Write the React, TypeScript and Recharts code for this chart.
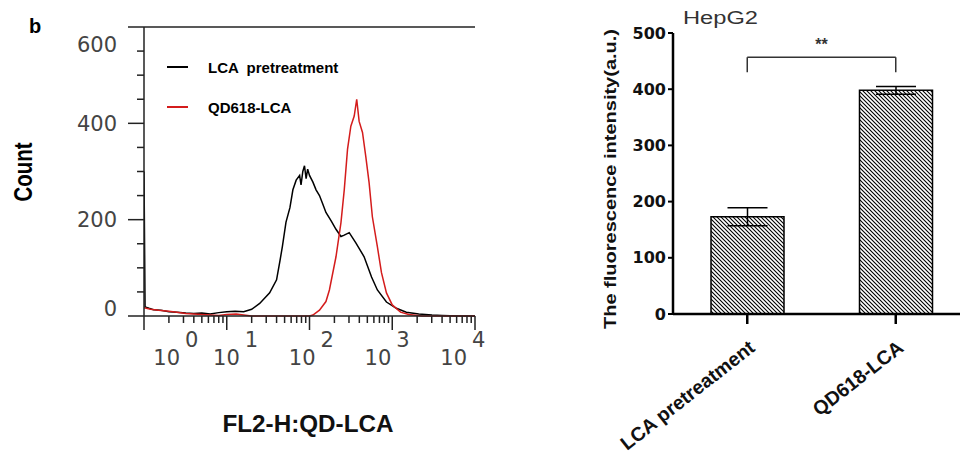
import { LineChart, Line, XAxis, YAxis, Legend, ReferenceLine, BarChart, Bar, ErrorBar } from 'recharts';

// flow cytometry histogram (FL2-H channel value vs. count)
const lcaX = [1, 1.03, 1.15, 1.3, 1.6, 2, 2.5, 3.2, 4, 5, 6.3, 8, 10, 12.6, 16, 20, 25, 33, 40, 44, 47, 52, 58, 63, 69, 76, 79, 83, 87, 91, 95, 100, 110, 120, 132, 145, 158, 182, 209, 240, 263, 302, 363, 457, 562, 661, 851, 1122, 1479, 2090, 3020, 4000, 6300, 10000];
const lcaCount = [300, 19, 16, 13, 12, 9, 8, 6, 5, 6, 4, 7, 9, 10, 9, 14, 26, 48, 75, 115, 144, 195, 225, 262, 282, 292, 272, 300, 312, 285, 305, 292, 278, 262, 250, 232, 215, 198, 180, 165, 168, 173, 152, 123, 81, 54, 29, 16, 8, 4, 2, 1, 0, 0];

const qdX = [1, 1.2, 1.5, 2, 2.5, 3.2, 4, 5, 6.3, 8, 10, 13, 16, 20, 50, 100, 110, 132, 158, 174, 209, 240, 263, 288, 316, 347, 372, 398, 437, 479, 525, 575, 661, 741, 851, 1000, 1259, 1585, 2291, 10000];
const qdCount = [17, 14, 12, 10, 8, 5, 4, 3, 2, 1, 3, 4, 2, 0, 0, 0, 2, 12, 30, 54, 123, 194, 262, 346, 394, 415, 450, 404, 381, 331, 277, 206, 144, 90, 48, 23, 8, 3, 0, 0];

const decades = [1, 10, 100, 1000, 10000];
const minorSteps = [2, 3, 4, 5, 6, 7, 8, 9];
const countTicks = [0, 50, 100, 150, 200, 250, 300, 350, 400, 450, 500, 550, 600];

// bar chart
const groups = ['LCA pretreatment', 'QD618-LCA'];
const intensity = [173, 398];
const intensityErr = [16, 7];
const intensityTicks = [0, 100, 200, 300, 400, 500];

const lcaData = lcaX.map((x, i) => ({ x, count: lcaCount[i] }));
const qdData = qdX.map((x, i) => ({ x, count: qdCount[i] }));
const logTicks = decades.flatMap((d) => (d < 10000 ? [d, ...minorSteps.map((m) => m * d)] : [d]));
const barData = groups.map((name, i) => ({ name, value: intensity[i], err: intensityErr[i] }));

const AXIS = '#222';
const LABEL_FONT = '"DejaVu Sans", sans-serif';
const BOLD_FONT = '"Liberation Sans", Arial, sans-serif';

const CountTick = ({ x, y, payload }: any) => {
  const v = payload.value;
  const major = v % 200 === 0;
  const nudge = v === 600 ? 17 : v === 0 ? -8 : 0;
  return (
    <g>
      <line x1={x} x2={x - (major ? 16 : 7)} y1={y} y2={y} stroke={AXIS} strokeWidth={1.5} />
      {major && (
        <text x={x - 27} y={y + nudge} dy="0.36em" textAnchor="end" fontSize={21} fontFamily={LABEL_FONT} fill="#444">
          {v}
        </text>
      )}
    </g>
  );
};

const DecadeTick = ({ x, y, payload }: any) => {
  const lg = Math.log10(payload.value);
  const e = Math.round(lg);
  const major = Math.abs(lg - e) < 1e-6;
  const off = e === 0 ? 36 : 13 - 7 * (e - 1);
  return (
    <g>
      <line x1={x} x2={x} y1={y} y2={y + (major ? 14 : 7)} stroke={AXIS} strokeWidth={1.5} />
      {major && (
        <g fontSize={21} fontFamily={LABEL_FONT} fill="#444">
          <text x={x + off} y={y + 49} textAnchor="end">10</text>
          <text x={x + off + 5} y={y + 31} textAnchor="start">{e}</text>
        </g>
      )}
    </g>
  );
};

const renderLegend = (props: any) => (
  <div>
    {(props.payload ?? []).map((entry: any, i: number) => (
      <div key={`leg-${i}`} style={{ display: 'flex', alignItems: 'center', height: 40 }}>
        <span style={{ display: 'inline-block', width: 21, height: 2, background: entry.color, marginRight: 20 }} />
        <span style={{ font: `bold 15px ${BOLD_FONT}`, color: '#000', whiteSpace: 'pre' }}>{entry.value}</span>
      </div>
    ))}
  </div>
);

const GroupTick = ({ x, y, payload }: any) => (
  <g transform={`translate(${x + 9},${y + 26}) rotate(-38)`}>
    <text textAnchor="end" fontSize={19.5} fontWeight="bold" fontFamily={BOLD_FONT} fill="#111">
      {payload.value}
    </text>
  </g>
);

export default function App() {
  return (
    <div style={{ position: 'absolute', left: 0, top: 0, width: 960, height: 459, overflow: 'hidden', background: '#fff' }}>
      <div style={{ position: 'absolute', left: 0, top: 0 }}>
        <LineChart width={495} height={459} margin={{ top: 27, right: 20, bottom: 103, left: 84 }}>
          <XAxis
            dataKey="x"
            type="number"
            scale="log"
            domain={[1, 10000]}
            ticks={logTicks}
            interval={0}
            allowDataOverflow
            height={40}
            tickSize={0}
            tickMargin={0}
            tick={<DecadeTick />}
            axisLine={{ stroke: AXIS, strokeWidth: 1.5 }}
          />
          <YAxis
            type="number"
            domain={[0, 600]}
            ticks={countTicks}
            interval={0}
            width={60}
            tickSize={0}
            tickMargin={0}
            tick={<CountTick />}
            axisLine={{ stroke: AXIS, strokeWidth: 1.5 }}
          />
          <ReferenceLine y={600} stroke={AXIS} strokeWidth={1.5} />
          <Legend
            layout="vertical"
            align="center"
            verticalAlign="middle"
            content={renderLegend}
            wrapperStyle={{ left: 167, top: 47, width: 220 }}
          />
          <Line data={lcaData} dataKey="count" name="LCA  pretreatment" stroke="#000" strokeWidth={1.5} dot={false} isAnimationActive={false} />
          <Line data={qdData} dataKey="count" name="QD618-LCA" stroke="#d41c1c" strokeWidth={1.5} dot={false} isAnimationActive={false} />
        </LineChart>
      </div>

      <div style={{ position: 'absolute', left: 560, top: 0 }}>
        <BarChart width={410} height={459} data={barData} margin={{ top: 33, right: 0, bottom: 0, left: 53 }}>
          <defs>
            <pattern id="hatch" width="4" height="4" patternUnits="userSpaceOnUse">
              <path d="M-1,-1 L5,5 M-1,3 L1,5 M3,-1 L5,1" stroke="#000" strokeWidth={1.1} />
            </pattern>
          </defs>
          <XAxis
            dataKey="name"
            height={145}
            interval={0}
            tickSize={10}
            tickMargin={0}
            tick={<GroupTick />}
            tickLine={{ stroke: '#000', strokeWidth: 2.5 }}
            axisLine={{ stroke: '#000', strokeWidth: 2.5 }}
          />
          <YAxis
            domain={[0, 500]}
            ticks={intensityTicks}
            interval={0}
            width={60}
            tickSize={5}
            tickMargin={2}
            tick={{ fontSize: 16, fontWeight: 'bold', fontFamily: LABEL_FONT, fill: '#111' }}
            tickLine={{ stroke: '#000', strokeWidth: 2 }}
            axisLine={{ stroke: '#000', strokeWidth: 2.5 }}
          />
          <Bar dataKey="value" barSize={73} fill="url(#hatch)" stroke="#000" strokeWidth={1.5} isAnimationActive={false}>
            <ErrorBar dataKey="err" width={20} stroke="#000" strokeWidth={1.5} />
          </Bar>
          <ReferenceLine
            segment={[{ x: groups[0], y: 457 }, { x: groups[1], y: 457 }]}
            stroke="#333"
            strokeWidth={1.5}
            label={{ value: '**', position: 'top', offset: 7, fontSize: 16, fontWeight: 'bold', fill: '#333', fontFamily: BOLD_FONT }}
          />
          <ReferenceLine segment={[{ x: groups[0], y: 457 }, { x: groups[0], y: 430 }]} stroke="#333" strokeWidth={1.5} />
          <ReferenceLine segment={[{ x: groups[1], y: 457 }, { x: groups[1], y: 430 }]} stroke="#333" strokeWidth={1.5} />
        </BarChart>
      </div>

      <svg width={960} height={459} style={{ position: 'absolute', left: 0, top: 0, pointerEvents: 'none' }}>
        <text x={29} y={33} fontSize={20} fontWeight="bold" fontFamily={BOLD_FONT}>b</text>
        <text transform="translate(32,172) rotate(-90)" textAnchor="middle" fontSize={25} fontWeight="bold" fontFamily={BOLD_FONT} textLength={59} lengthAdjust="spacingAndGlyphs">
          Count
        </text>
        <text x={308} y={432} textAnchor="middle" fontSize={23} fontWeight="bold" fontFamily={BOLD_FONT} fill="#111" textLength={171} lengthAdjust="spacingAndGlyphs">
          FL2-H:QD-LCA
        </text>
        <text x={683} y={24} fontSize={18} fontFamily={BOLD_FONT} fill="#333" textLength={75} lengthAdjust="spacingAndGlyphs">
          HepG2
        </text>
        <text transform="translate(616,179) rotate(-90)" textAnchor="middle" fontSize={17} fontWeight="bold" fontFamily={BOLD_FONT} fill="#111" textLength={300} lengthAdjust="spacingAndGlyphs">
          The fluorescence intensity(a.u.)
        </text>
      </svg>
    </div>
  );
}
